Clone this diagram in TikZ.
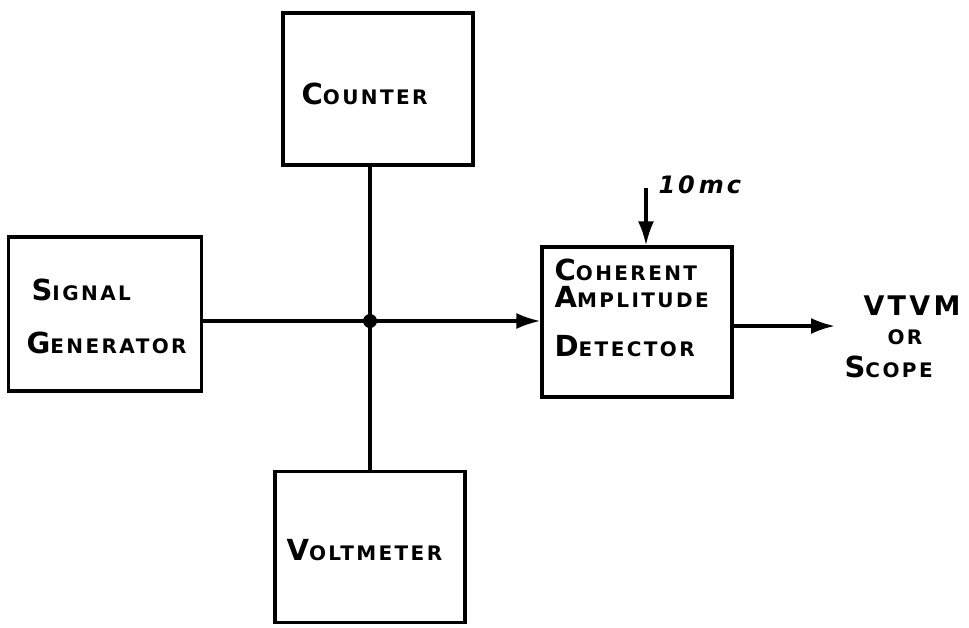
\documentclass[tikz,border=0pt]{standalone}
\usepackage{fontspec}
\setmainfont{DejaVu Sans}[LetterSpace=12]
\usetikzlibrary{arrows.meta}
\newcommand{\hand}[2]{\bfseries{\fontsize{29}{32}\selectfont #1}{\fontsize{20}{24}\selectfont #2}}

\begin{document}
\begin{tikzpicture}[x=1pt,y=-1pt,line width=3.2pt,
	unit/.style={draw,minimum width=190pt,minimum height=152pt,inner sep=0pt},
	lbl/.style={inner sep=0pt,anchor=base west},
	sig/.style={-{Latex[length=24pt,width=16pt]}}]
	\useasboundingbox (0,0) rectangle (969,627);

	% boxes
	\node[unit] (counter) at (378,89) {};
	\node[unit,minimum width=193pt,minimum height=154pt] (siggen) at (105,314) {};
	\node[unit,minimum height=150pt] (detector) at (637,322) {};
	\node[unit,minimum height=151pt] (voltmeter) at (370,547) {};

	% texts
	\node[lbl] (countertxt) at (300,104) {\hand{C}{OUNTER}};
	\node[lbl] (sigtxt) at (30,300) {\hand{S}{IGNAL}};
	\node[lbl] (gentxt) at (25,353) {\hand{G}{ENERATOR}};
	\node[lbl] (cohtxt) at (553,280) {\hand{C}{OHERENT}};
	\node[lbl] (amptxt) at (553,307) {\hand{A}{MPLITUDE}};
	\node[lbl] (dettxt) at (553,356) {\hand{D}{ETECTOR}};
	\node[lbl] (volttxt) at (285,560) {\hand{V}{OLTMETER}};
	\node[lbl] (vtvmtxt) at (862,315) {\bfseries\fontsize{27}{30}\selectfont VTVM};
	\node[lbl] (ortxt) at (886,344) {\hand{}{OR}};
	\node[lbl] (scopetxt) at (843,377) {\hand{S}{COPE}};
	\node[lbl] (mctxt) at (657,193) {\fontsize{24}{26}\selectfont\bfseries\itshape 10\,mc};

	% lines
	\coordinate (junction) at (370,321);
	\draw (junction |- counter.south) -- (junction |- voltmeter.north);
	\draw[sig] (siggen.east |- junction) -- (junction) -- (detector.west |- junction);
	\fill (junction) circle (7);

	\coordinate (clock) at (646,188);
	\draw[sig] (clock) -- (clock |- detector.north);
	\coordinate (out) at (835,326);
	\draw[sig] (detector.east |- out) -- (out);
\end{tikzpicture}
\end{document}
